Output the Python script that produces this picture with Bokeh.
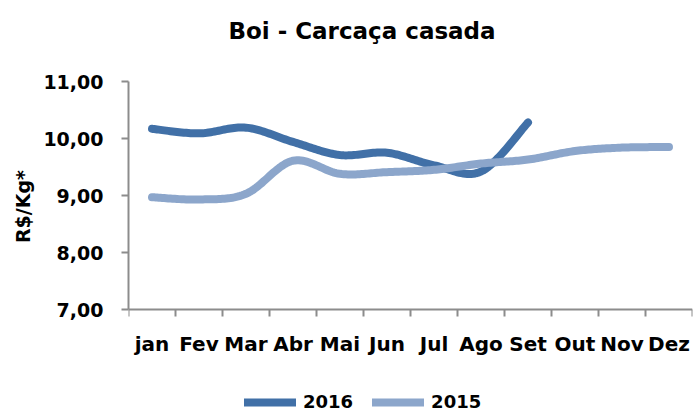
import numpy as np
from bokeh.plotting import figure
from bokeh.models import Range1d, FixedTicker, Legend, LegendItem, Label
from bokeh.embed import file_html
from bokeh.resources import INLINE

months = ["jan", "Fev", "Mar", "Abr", "Mai", "Jun", "Jul", "Ago", "Set", "Out", "Nov", "Dez"]
s2016 = [10.17, 10.09, 10.19, 9.94, 9.71, 9.75, 9.53, 9.42, 10.28]
s2015 = [8.97, 8.93, 9.03, 9.61, 9.38, 9.41, 9.45, 9.56, 9.63, 9.78, 9.84, 9.85]
y_ticks = [7, 8, 9, 10, 11]
y_labels = ["7,00", "8,00", "9,00", "10,00", "11,00"]

C2016 = "#4170A7"
C2015 = "#8CA6CB"
FONT = "DejaVu Sans"
AXC = "#8C8C8C"

# layout (pixels)
W, H = 695, 412
LEFT, RIGHT = 128, 3
AX_TOP, AX_BOTTOM = 81, 309          # pixel rows of 11,00 and 7,00
YMIN, YMAX = y_ticks[0], y_ticks[-1]
ppu = (AX_BOTTOM - AX_TOP) / (YMAX - YMIN)
y_lo = YMIN - (H - AX_BOTTOM) / ppu
y_hi = YMAX + AX_TOP / ppu


def smooth(ys, n=24):
    # smoothed rendering of the polyline through the data points
    xs = np.arange(len(ys)) + 0.5
    ys = np.asarray(ys, dtype=float)
    px = np.concatenate([[xs[0]], xs, [xs[-1]]])
    py = np.concatenate([[ys[0]], ys, [ys[-1]]])
    ox, oy = [], []
    for i in range(1, len(px) - 2):
        t = np.linspace(0, 1, n, endpoint=(i == len(px) - 3))
        p0x, p1x, p2x, p3x = px[i - 1], px[i], px[i + 1], px[i + 2]
        p0y, p1y, p2y, p3y = py[i - 1], py[i], py[i + 1], py[i + 2]
        c1x, c1y = p1x + (p2x - p0x) / 6, p1y + (p2y - p0y) / 6
        c2x, c2y = p2x - (p3x - p1x) / 6, p2y - (p3y - p1y) / 6
        b0 = (1 - t) ** 3
        b1 = 3 * (1 - t) ** 2 * t
        b2 = 3 * (1 - t) * t ** 2
        b3 = t ** 3
        ox.extend(b0 * p1x + b1 * c1x + b2 * c2x + b3 * p2x)
        oy.extend(b0 * p1y + b1 * c1y + b2 * c2y + b3 * p2y)
    return ox, oy


p = figure(width=W, height=H, output_backend="svg", toolbar_location=None, title=None,
           x_range=Range1d(0, len(months)), y_range=Range1d(y_lo, y_hi),
           min_border_left=LEFT, min_border_right=RIGHT, min_border_top=0, min_border_bottom=0)

p.outline_line_color = None
p.grid.grid_line_color = None
p.background_fill_color = "white"
p.border_fill_color = "white"

x16, y16 = smooth(s2016)
x15, y15 = smooth(s2015)
r16 = p.line(x16, y16, line_color=C2016, line_width=8, line_cap="round", line_join="round")
r15 = p.line(x15, y15, line_color=C2015, line_width=8, line_cap="round", line_join="round")

# title
ppx = (W - LEFT - RIGHT) / len(months)
title = Label(x=(361.5 - LEFT) / ppx, y=YMAX + (AX_TOP - 30) / ppu,
              text="Boi - Carcaça casada", text_font=FONT, text_font_size="23px",
              text_font_style="bold", text_color="black",
              text_align="center", text_baseline="alphabetic")
p.add_layout(title)

# x axis
xa = p.xaxis[0]
xa.fixed_location = YMIN
xa.ticker = FixedTicker(ticks=[i + 0.5 for i in range(len(months))],
                        minor_ticks=list(range(len(months) + 1)))
xa.major_label_overrides = {i + 0.5: m for i, m in enumerate(months)}
xa.major_tick_out = 0
xa.major_tick_in = 0
xa.minor_tick_out = 7
xa.minor_tick_in = 0
xa.minor_tick_line_color = AXC
xa.minor_tick_line_width = 2
xa.axis_line_color = AXC
xa.axis_line_width = 2
xa.major_label_text_font = FONT
xa.major_label_text_font_style = "bold"
xa.major_label_text_font_size = "20px"
xa.major_label_text_color = "black"
xa.major_label_standoff = 15

# y axis
ya = p.yaxis[0]
ya.bounds = (YMIN, YMAX)
ya.ticker = FixedTicker(ticks=y_ticks, minor_ticks=[])
ya.major_label_overrides = {t: l for t, l in zip(y_ticks, y_labels)}
ya.major_tick_out = 7
ya.major_tick_in = 0
ya.major_tick_line_color = AXC
ya.major_tick_line_width = 2
ya.axis_line_color = AXC
ya.axis_line_width = 2
ya.major_label_text_font = FONT
ya.major_label_text_font_style = "bold"
ya.major_label_text_font_size = "19px"
ya.major_label_text_color = "black"
ya.major_label_standoff = 18
ya.axis_label = "R$/Kg*"
ya.axis_label_text_font = FONT
ya.axis_label_text_font_style = "bold"
ya.axis_label_text_font_size = "19px"
ya.axis_label_text_color = "black"
ya.axis_label_standoff = 6

legend = Legend(items=[LegendItem(label="2016", renderers=[r16]),
                       LegendItem(label="2015", renderers=[r15])],
                orientation="horizontal", location=(116, 0),
                glyph_width=52, glyph_height=18, label_height=18,
                label_standoff=7, spacing=19, padding=0, margin=0,
                border_line_color=None, background_fill_alpha=0,
                label_text_font=FONT, label_text_font_style="bold",
                label_text_font_size="18px", label_text_color="black")
p.add_layout(legend, "center")

open("out.html", "w").write(file_html(p, INLINE))
